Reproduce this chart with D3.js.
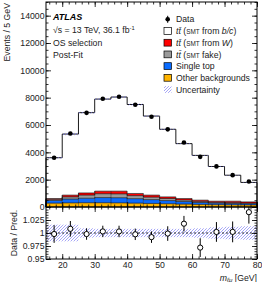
<!DOCTYPE html>
<html>
<head>
<meta charset="utf-8">
<script src="https://cdn.jsdelivr.net/npm/d3@7"></script>
<style>
  body { margin: 0; background: #fff; }
  svg { font-family: "Liberation Sans", Arial, sans-serif; }
</style>
</head>
<body>
<div id="container"></div>
<script>
// bins of m_lmu, 5 GeV wide
var binLow = [15, 20, 25, 30, 35, 40, 45, 50, 55, 60, 65, 70, 75];
var dataEvents = [3600, 5380, 6890, 7920, 8070, 7480, 6600, 5680, 4720, 3670, 2970, 2330, 1870];
var ratioErr = [0.017, 0.015, 0.011, 0.011, 0.011, 0.011, 0.011, 0.014, 0.015, 0.018, 0.019, 0.02, 0.022];

// post-fit prediction, stacked bottom -> top
var otherBkg  = [280, 300, 310, 310, 300, 280, 260, 240, 210, 190, 170, 160, 150];
var singleTop = [200, 280, 330, 380, 380, 330, 280, 230, 190, 140, 110, 100, 90];
var ttbarFake = [80, 160, 230, 280, 280, 220, 180, 150, 110, 80, 60, 60, 50];
var ttbarW    = [60, 130, 160, 190, 200, 160, 150, 120, 110, 90, 85, 105, 85];
var ttbarBC   = [2987, 4467, 5874, 6736, 6886, 6509, 5783, 4946, 4017, 3276, 2539, 1900, 1423];
var systUnc   = [0.016, 0.016, 0.009, 0.008, 0.008, 0.008, 0.008, 0.008, 0.008, 0.009, 0.011, 0.012, 0.013];

var yTicks = [0, 2000, 4000, 6000, 8000, 10000, 12000, 14000];
var ratioTicks = [0.95, 0.975, 1, 1.025];
var xTicks = [20, 30, 40, 50, 60, 70, 80];

var width = 262, height = 282;
var padL = 46, padR = 257, plotTop = 2, mainBottom = 207, ratioBottom = 259;
var binW = 5;
var fs = "8.7px";

var layers = [
  {key: "other", vals: otherBkg, color: "#ffb400"},
  {key: "single", vals: singleTop, color: "#0a6cff"},
  {key: "fake", vals: ttbarFake, color: "#9a9a9a"},
  {key: "W", vals: ttbarW, color: "#ff0000"},
  {key: "bc", vals: ttbarBC, color: "#ffffff"}
];

var bins = binLow.map(function(lo, i) {
  var row = {lo: lo, hi: lo + binW, data: dataEvents[i]};
  layers.forEach(function(l) { row[l.key] = l.vals[i]; });
  row.total = layers.reduce(function(s, l) { return s + l.vals[i]; }, 0);
  row.ratio = dataEvents[i] / row.total;
  row.rerr = ratioErr[i];
  row.unc = systUnc[i];
  return row;
});

const x = d3.scaleLinear().domain([15, 80]).range([padL, padR]);
const y = d3.scaleLinear().domain([0, 15000]).range([mainBottom, plotTop]);
const yr = d3.scaleLinear().domain([0.95, 1.05]).range([ratioBottom, mainBottom]);

const SVG = d3.select("#container").append("svg")
  .attr("width", width).attr("height", height);

var defs = SVG.append("defs");
var pat = defs.append("pattern").attr("id", "hatch")
  .attr("patternUnits", "userSpaceOnUse").attr("width", 3).attr("height", 3);
pat.append("path").attr("d", "M-1,1 l2,-2 M0,3 l3,-3 M2,4 l2,-2")
  .attr("stroke", "#6a6af0").attr("stroke-width", 0.6);

var stack = d3.stack().keys(layers.map(function(l) { return l.key; }));
var series = stack(bins);

// filled layers
series.forEach(function(s, li) {
  SVG.append("g").selectAll("rect").data(s).enter().append("rect")
    .attr("x", function(d) { return x(d.data.lo); })
    .attr("width", function(d) { return x(d.data.hi) - x(d.data.lo); })
    .attr("y", function(d) { return y(d[1]); })
    .attr("height", function(d) { return y(d[0]) - y(d[1]); })
    .attr("fill", layers[li].color)
    .attr("stroke", "none");
});

// step outlines of each layer
function stepPts(getv) {
  var pts = [[x(bins[0].lo), y(0)]];
  bins.forEach(function(b, i) {
    pts.push([x(b.lo), y(getv(i))]);
    pts.push([x(b.hi), y(getv(i))]);
  });
  pts.push([x(bins[bins.length - 1].hi), y(0)]);
  return pts;
}
series.forEach(function(s, li) {
  SVG.append("path")
    .attr("d", d3.line()(stepPts(function(i) { return s[i][1]; })))
    .attr("fill", "none").attr("stroke", "#000")
    .attr("stroke-width", li === series.length - 1 ? 0.9 : 0.6);
});

// bin edge marks inside colored part
SVG.append("g").selectAll("line").data(series[3]).enter().append("line")
  .attr("x1", function(d) { return x(d.data.lo); })
  .attr("x2", function(d) { return x(d.data.lo); })
  .attr("y1", y(0))
  .attr("y2", function(d) { return y(d[1]); })
  .attr("stroke", "#000").attr("stroke-width", 0.4);

// uncertainty band on total
SVG.append("g").selectAll("rect").data(bins).enter().append("rect")
  .attr("x", function(d) { return x(d.lo); })
  .attr("width", function(d) { return x(d.hi) - x(d.lo); })
  .attr("y", function(d) { return y(d.total * (1 + d.unc)); })
  .attr("height", function(d) { return y(d.total * (1 - d.unc)) - y(d.total * (1 + d.unc)); })
  .attr("fill", "url(#hatch)");

// data points
SVG.append("g").selectAll("line").data(bins).enter().append("line")
  .attr("x1", function(d) { return x(d.lo + binW / 2); })
  .attr("x2", function(d) { return x(d.lo + binW / 2); })
  .attr("y1", function(d) { return y(d.data + Math.sqrt(d.data)); })
  .attr("y2", function(d) { return y(d.data - Math.sqrt(d.data)); })
  .attr("stroke", "#000").attr("stroke-width", 1);
SVG.append("g").selectAll("circle").data(bins).enter().append("circle")
  .attr("cx", function(d) { return x(d.lo + binW / 2); })
  .attr("cy", function(d) { return y(d.data); })
  .attr("r", 2.3).attr("fill", "#000");

// ratio panel
SVG.append("g").selectAll("rect").data(bins).enter().append("rect")
  .attr("x", function(d) { return x(d.lo); })
  .attr("width", function(d) { return x(d.hi) - x(d.lo); })
  .attr("y", function(d) { return yr(1 + d.unc); })
  .attr("height", function(d) { return yr(1 - d.unc) - yr(1 + d.unc); })
  .attr("fill", "url(#hatch)");
SVG.append("line")
  .attr("x1", padL).attr("x2", padR).attr("y1", yr(1)).attr("y2", yr(1))
  .attr("stroke", "#000").attr("stroke-width", 0.8).attr("stroke-dasharray", "2,2");
SVG.append("g").selectAll("line").data(bins).enter().append("line")
  .attr("x1", function(d) { return x(d.lo + binW / 2); })
  .attr("x2", function(d) { return x(d.lo + binW / 2); })
  .attr("y1", function(d) { return Math.max(mainBottom, yr(d.ratio + d.rerr)); })
  .attr("y2", function(d) { return yr(d.ratio - d.rerr); })
  .attr("stroke", "#000").attr("stroke-width", 1);
SVG.append("g").selectAll("circle").data(bins).enter().append("circle")
  .attr("cx", function(d) { return x(d.lo + binW / 2); })
  .attr("cy", function(d) { return yr(d.ratio); })
  .attr("r", 2.6).attr("fill", "#fff").attr("stroke", "#000").attr("stroke-width", 1);

// frames
[[plotTop, mainBottom], [mainBottom, ratioBottom]].forEach(function(p) {
  SVG.append("rect").attr("x", padL).attr("y", p[0])
    .attr("width", padR - padL).attr("height", p[1] - p[0])
    .attr("fill", "none").attr("stroke", "#000").attr("stroke-width", 1);
});

// axes with inward ticks
function styleAxis(g) {
  g.select(".domain").remove();
  g.selectAll("line").attr("stroke", "#000").attr("stroke-width", 0.8);
  g.selectAll("text").attr("font-size", fs).attr("fill", "#222")
    .style("font-family", "Liberation Sans, Arial, sans-serif");
}
function rangeStep(a, b, s) {
  var out = [];
  for (var v = a; v <= b + 1e-9; v += s) out.push(+v.toFixed(4));
  return out;
}

SVG.append("g").attr("transform", "translate(" + padL + ",0)")
  .call(d3.axisLeft(y).tickValues(yTicks).tickSize(-5).tickPadding(1.5).tickFormat(d3.format("d")))
  .call(styleAxis);
SVG.append("g").attr("transform", "translate(" + padL + ",0)")
  .call(d3.axisLeft(y).tickValues(rangeStep(0, 15000, 500)).tickSize(-2.5).tickFormat(""))
  .call(styleAxis);
SVG.append("g").attr("transform", "translate(" + padR + ",0)")
  .call(d3.axisRight(y).tickValues(yTicks).tickSize(-5).tickFormat(""))
  .call(styleAxis);
SVG.append("g").attr("transform", "translate(" + padR + ",0)")
  .call(d3.axisRight(y).tickValues(rangeStep(0, 15000, 500)).tickSize(-2.5).tickFormat(""))
  .call(styleAxis);

SVG.append("g").attr("transform", "translate(" + padL + ",0)")
  .call(d3.axisLeft(yr).tickValues(ratioTicks).tickSize(-5).tickPadding(1.5).tickFormat(function(d) { return String(d); }))
  .call(styleAxis);
SVG.append("g").attr("transform", "translate(" + padL + ",0)")
  .call(d3.axisLeft(yr).tickValues(rangeStep(0.95, 1.05, 0.005)).tickSize(-2.5).tickFormat(""))
  .call(styleAxis);
SVG.append("g").attr("transform", "translate(" + padR + ",0)")
  .call(d3.axisRight(yr).tickValues(rangeStep(0.95, 1.05, 0.025)).tickSize(-5).tickFormat(""))
  .call(styleAxis);
SVG.append("g").attr("transform", "translate(" + padR + ",0)")
  .call(d3.axisRight(yr).tickValues(rangeStep(0.95, 1.05, 0.005)).tickSize(-2.5).tickFormat(""))
  .call(styleAxis);

[mainBottom, ratioBottom].forEach(function(yy, k) {
  SVG.append("g").attr("transform", "translate(0," + yy + ")")
    .call(d3.axisBottom(x).tickValues(xTicks).tickSize(-5).tickPadding(2.5).tickFormat(k === 1 ? d3.format("d") : ""))
    .call(styleAxis);
  SVG.append("g").attr("transform", "translate(0," + yy + ")")
    .call(d3.axisBottom(x).tickValues(rangeStep(16, 80, 2)).tickSize(-2.5).tickFormat(""))
    .call(styleAxis);
});
[plotTop, mainBottom].forEach(function(yy) {
  SVG.append("g").attr("transform", "translate(0," + yy + ")")
    .call(d3.axisTop(x).tickValues(xTicks).tickSize(-5).tickFormat(""))
    .call(styleAxis);
  SVG.append("g").attr("transform", "translate(0," + yy + ")")
    .call(d3.axisTop(x).tickValues(rangeStep(16, 80, 2)).tickSize(-2.5).tickFormat(""))
    .call(styleAxis);
});

// axis titles
SVG.append("text").attr("transform", "translate(10,3) rotate(-90)")
  .attr("text-anchor", "end").attr("font-size", fs).attr("fill", "#222")
  .text("Events / 5 GeV");
SVG.append("text").attr("transform", "translate(17,233) rotate(-90)")
  .attr("text-anchor", "middle").attr("font-size", fs).attr("fill", "#222")
  .text("Data / Pred.");
var xt = SVG.append("text").attr("x", padR).attr("y", 280.5)
  .attr("text-anchor", "end").attr("font-size", fs).attr("fill", "#222");
xt.append("tspan").attr("font-style", "italic").text("m");
xt.append("tspan").attr("font-size", "6.2px").attr("dy", 1.5).attr("font-style", "italic").text("ℓμ");
xt.append("tspan").attr("dy", -1.5).text(" [GeV]");

// ATLAS labels
SVG.append("text").attr("x", 53).attr("y", 19.5)
  .attr("font-size", "9px").attr("font-weight", "bold").attr("font-style", "italic")
  .text("ATLAS");
var lum = SVG.append("text").attr("x", 53).attr("y", 33).attr("font-size", fs).attr("fill", "#222");
lum.append("tspan").text("√s = 13 TeV, 36.1 fb");
lum.append("tspan").attr("font-size", "5.8px").attr("dy", -3).text("-1");
SVG.append("text").attr("x", 53).attr("y", 46).attr("font-size", fs).attr("fill", "#222").text("OS selection");
SVG.append("text").attr("x", 53).attr("y", 58).attr("font-size", fs).attr("fill", "#222").text("Post-Fit");

// legend
var legX = 164, legY0 = 19.3, legDy = 11.7, legTx = 176;
var legend = SVG.append("g");
legend.append("line").attr("x1", legX + 3.7).attr("x2", legX + 3.7)
  .attr("y1", legY0 - 3.5).attr("y2", legY0 + 3.5).attr("stroke", "#000");
legend.append("circle").attr("cx", legX + 3.7).attr("cy", legY0).attr("r", 2.3).attr("fill", "#000");
legend.append("text").attr("x", legTx).attr("y", legY0 + 3.1)
  .attr("font-size", fs).attr("fill", "#222").text("Data");

var legItems = [
  {color: "#ffffff", label: ["tt̄", " (", "SMT", " from ", "b/c", ")"]},
  {color: "#ff0000", label: ["tt̄", " (", "SMT", " from ", "W", ")"]},
  {color: "#9a9a9a", label: ["tt̄", " (", "SMT", " fake", "", ")"]},
  {color: "#0a6cff", label: ["Single top"]},
  {color: "#ffb400", label: ["Other backgrounds"]},
  {color: "url(#hatch)", label: ["Uncertainty"]}
];
legItems.forEach(function(it, i) {
  var yy = legY0 + (i + 1) * legDy;
  legend.append("rect").attr("x", legX).attr("y", yy - 3.4).attr("width", 7.5).attr("height", 6.8)
    .attr("fill", it.color).attr("stroke", i === 5 ? "none" : "#000").attr("stroke-width", 0.7);
  var t = legend.append("text").attr("x", legTx).attr("y", yy + 3.1)
    .attr("font-size", fs).attr("fill", "#222");
  if (it.label.length === 1) {
    t.text(it.label[0]);
  } else {
    t.append("tspan").attr("font-style", "italic").text(it.label[0]);
    t.append("tspan").text(it.label[1]);
    t.append("tspan").attr("font-size", "6.4px").text(it.label[2]);
    t.append("tspan").text(it.label[3]);
    if (it.label[4]) t.append("tspan").attr("font-style", "italic").text(it.label[4]);
    t.append("tspan").text(it.label[5]);
  }
});
</script>
</body>
</html>
